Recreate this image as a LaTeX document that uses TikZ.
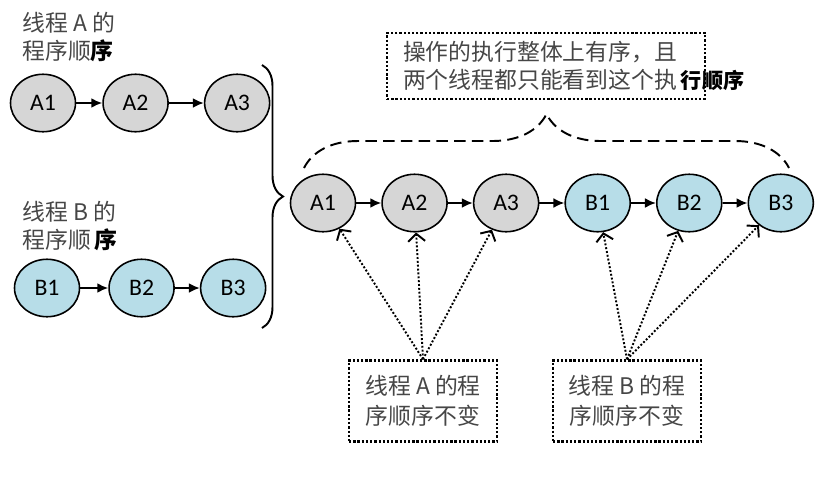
\documentclass[tikz,border=0pt]{standalone}
\usepackage{fontspec}
\newfontfamily\cjk{Noto Sans CJK SC}
\newfontfamily\lat{Carlito}
\usetikzlibrary{positioning, shapes.geometric, arrows.meta, decorations.pathreplacing}

\definecolor{ballgray}{RGB}{214,214,214}
\definecolor{ballblue}{RGB}{183,221,232}
\definecolor{inkgray}{RGB}{70,70,70}

\tikzset{
  ball/.style={ellipse, draw, line width=0.9pt, minimum width=1.3cm, minimum height=1.15cm,
    inner sep=0pt, font=\lat\fontsize{13.5}{15}\selectfont},
  ballA/.style={ball, fill=ballgray},
  ballB/.style={ball, fill=ballblue},
  seq/.style={-{Latex[length=2.2mm,width=2mm]}, line width=1.2pt},
  threadnote/.style={anchor=west, align=left, inner sep=0pt, text=inkgray,
    font=\cjk\fontsize{13}{16.5}\selectfont},
  note/.style={draw, line width=1.4pt, dash pattern=on 1.3pt off 1.1pt, text=inkgray,
    font=\cjk\fontsize{13}{16}\selectfont},
  keep/.style={line width=1.1pt, dash pattern=on 1.1pt off 1.1pt,
    -{Straight Barb[length=1.5mm,width=3.4mm]}},
  bracefig/.style={decorate, decoration={brace, amplitude=#1}, line width=1.1pt}
}

\begin{document}
\begin{tikzpicture}[x=0.02cm, y=-0.02cm, node distance=0.5cm]
  \useasboundingbox (0,0) rectangle (821,484);

  % thread A alone
  \node[threadnote] (labA) at (22,37) {线程 A 的\\程序顺{\color{black}\bfseries 序}};
  \node[ballA] (lA1) at (43,103) {A1};
  \node[ballA, right=0.52cm of lA1] (lA2) {A2};
  \node[ballA, right=0.7cm of lA2] (lA3) {A3};
  \draw[seq] (lA1) -- (lA2);
  \draw[seq] (lA2) -- (lA3);

  % thread B alone
  \node[threadnote] (labB) at (22,226) {线程 B 的\\程序顺\,{\color{black}\bfseries 序}};
  \node[ballB] (lB1) at (47,288) {B1};
  \node[ballB, right=0.56cm of lB1] (lB2) {B2};
  \node[ballB, right=0.5cm of lB2] (lB3) {B3};
  \draw[seq] (lB1) -- (lB2);
  \draw[seq] (lB2) -- (lB3);

  \draw[bracefig=0.42cm] (262,65) -- (262,328);

  % merged order
  \node[ballA] (A1) at (323,203) {A1};
  \node[ballA, right=of A1] (A2) {A2};
  \node[ballA, right=of A2] (A3) {A3};
  \node[ballB, right=of A3] (B1) {B1};
  \node[ballB, right=of B1] (B2) {B2};
  \node[ballB, right=of B2] (B3) {B3};
  \foreach \a/\b in {A1/A2, A2/A3, A3/B1, B1/B2, B2/B3}
    \draw[seq] (\a) -- (\b);

  \draw[bracefig=1.08cm, dash pattern=on 6.5pt off 3.6pt] (304,168) -- (789,168);
  \node[note, text width=5.72cm, inner xsep=0.32cm, minimum height=1.32cm, align=left,
    font=\cjk\fontsize{13}{15.5}\selectfont] (whole) at (546,66)
    {操作的执行整体上有序，且\\两个线程都只能看到这个执\,{\color{black}\bfseries\fontsize{12}{14}\selectfont 行顺序}};

  % each thread keeps its own order
  \node[note, minimum width=2.96cm, minimum height=1.62cm, align=center,
    font=\cjk\fontsize{13}{17}\selectfont] (keepA) at (423,401) {线程 A 的程\\序顺序不变};
  \node[note, minimum width=2.96cm, minimum height=1.62cm, align=center,
    font=\cjk\fontsize{13}{17}\selectfont] (keepB) at (627,401) {线程 B 的程\\序顺序不变};
  \foreach \n in {A1, A2, A3}
    \draw[keep] (keepA.north) -- (\n);
  \foreach \n in {B1, B2, B3}
    \draw[keep] (keepB.north) -- (\n);
\end{tikzpicture}
\end{document}
